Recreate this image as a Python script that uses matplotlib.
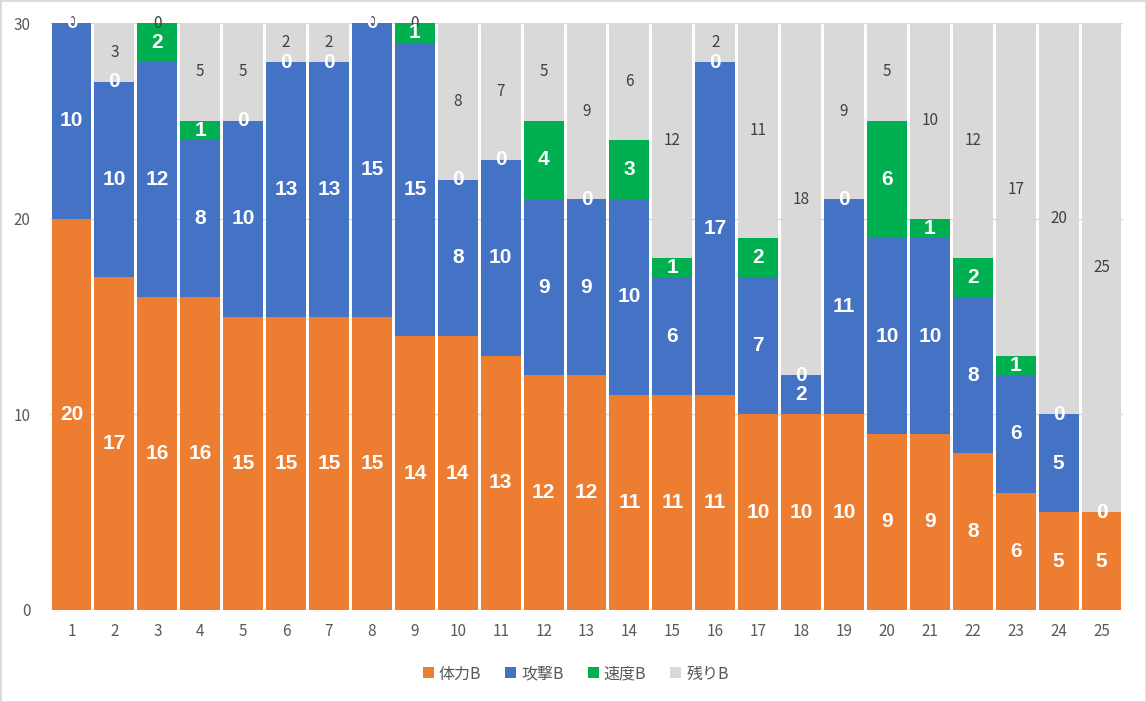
import numpy as np
import matplotlib.pyplot as plt
from matplotlib.patches import Rectangle

plt.rcParams['font.family'] = ['Noto Sans CJK JP', 'DejaVu Sans']

cats = [str(i) for i in range(1, 26)]
tairyoku = [20, 17, 16, 16, 15, 15, 15, 15, 14, 14, 13, 12, 12, 11, 11, 11, 10, 10, 10, 9, 9, 8, 6, 5, 5]
kougeki = [10, 10, 12, 8, 10, 13, 13, 15, 15, 8, 10, 9, 9, 10, 6, 17, 7, 2, 11, 10, 10, 8, 6, 5, 0]
sokudo = [0, 0, 2, 1, 0, 0, 0, 0, 1, 0, 0, 4, 0, 3, 1, 0, 2, 0, 0, 6, 1, 2, 1, 0, 0]
nokori = [0, 3, 0, 5, 5, 2, 2, 0, 0, 8, 7, 5, 9, 6, 12, 2, 11, 18, 9, 5, 10, 12, 17, 20, 25]

series = [('体力B', tairyoku, '#ED7D31', 'white', 'bold'),
          ('攻撃B', kougeki, '#4472C4', 'white', 'bold'),
          ('速度B', sokudo, '#00B050', 'white', 'bold'),
          ('残りB', nokori, '#D9D9D9', '#404040', 'normal')]

narrow = ['Liberation Sans Narrow', 'DejaVu Sans Condensed', 'Liberation Sans', 'DejaVu Sans']

fig = plt.figure(figsize=(11.46, 7.02), dpi=100)
ax = fig.add_axes([50 / 1146, 92 / 702, 1073 / 1146, 587 / 702])

x = np.arange(len(cats))
bottom = np.zeros(len(cats))
for name, vals, col, tcol, tw in series:
    vals = np.array(vals)
    ax.bar(x, vals, 0.93, bottom=bottom, color=col, label=name,
           edgecolor='none', zorder=2)
    for xi, b, v in zip(x, bottom, vals):
        if tw == 'bold':
            ax.text(xi, b + v / 2, str(v), ha='center', va='center', color=tcol,
                    fontsize=15, fontweight='bold', family=narrow, zorder=4)
        else:
            ax.text(xi, b + v / 2, str(v), ha='center', va='center', color=tcol,
                    fontsize=11, zorder=3)
    bottom = bottom + vals

ax.set_xlim(-0.5, len(cats) - 0.5)
ax.set_ylim(0, 30)
ax.set_yticks([0, 10, 20, 30])
ax.set_xticks(x)
ax.set_xticklabels(cats)
ax.tick_params(length=0, labelsize=11, colors='#595959', pad=9)
ax.tick_params(axis='y', pad=14)
ax.yaxis.grid(True, color='#D9D9D9', lw=1, zorder=0)
ax.set_axisbelow(True)
for s in ax.spines.values():
    s.set_visible(False)

ax.legend(loc='upper center', bbox_to_anchor=(0.49, -0.07), ncol=4, frameon=False,
          handlelength=0.7, handleheight=0.7, handletextpad=0.3, columnspacing=1.5,
          fontsize=11.5, labelcolor='#595959')

fig.patches.append(Rectangle((0, 0), 1, 1, transform=fig.transFigure, fill=False,
                             edgecolor='#D9D9D9', lw=2))

fig.savefig('out.png', dpi=100)
